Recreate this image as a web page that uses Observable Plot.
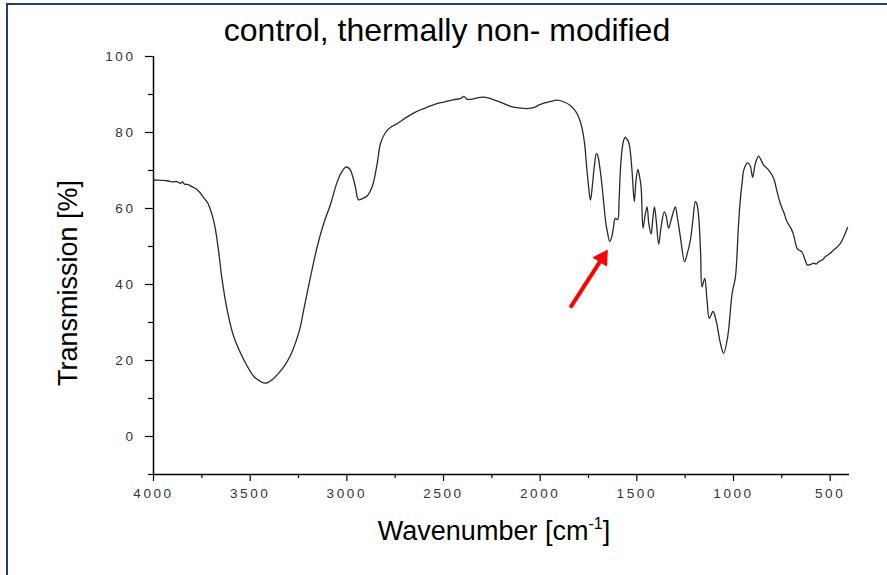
<!DOCTYPE html>
<html>
<head>
<meta charset="utf-8">
<script src="https://cdn.jsdelivr.net/npm/d3@7"></script>
<script src="https://cdn.jsdelivr.net/npm/@observablehq/plot@0.6"></script>
<style>
  html, body { margin: 0; padding: 0; background: #fff; overflow: hidden; }
  #wrap { position: relative; width: 887px; height: 575px; font-family: "Liberation Sans", Arial, sans-serif; }
  #frame { position: absolute; left: 6px; top: 3px; width: 1000px; height: 1000px; border: 2px solid #243f6e; box-sizing: border-box; pointer-events: none; }
  #chart { position: absolute; left: 0; top: 0; }
  .title { position: absolute; left: 447px; top: 14px; transform: translateX(-50%); font-size: 32px; color: #000; white-space: nowrap; line-height: 1; }
  .ylab { position: absolute; left: 68px; top: 283px; transform: translate(-50%, -50%) rotate(-90deg); font-size: 27px; color: #000; white-space: nowrap; line-height: 1; }
  .xlab { position: absolute; left: 494px; top: 530px; transform: translate(-50%, -50%); font-size: 27px; color: #000; white-space: nowrap; line-height: 1; }
  .xlab sup { font-size: 16px; vertical-align: 11px; }
  #chart svg g[aria-label$="tick label"] text { letter-spacing: 2.6px; }
</style>
</head>
<body>
<div id="wrap">
  <div id="chart"></div>
  <div class="title">control, thermally non- modified</div>
  <div class="ylab">Transmission [%]</div>
  <div class="xlab">Wavenumber [cm<sup>-1</sup>]</div>
  <div id="frame"></div>
</div>
<script>
// Wavenumber (cm-1) and transmission (%)
const wavenumber = [
  4000, 3960, 3930, 3900, 3880, 3860, 3850, 3840, 3820, 3800, 3780, 3760, 3740, 3720, 3705,
  3690, 3679, 3662, 3645, 3619, 3585, 3533, 3481, 3450, 3430, 3410, 3380, 3350, 3320, 3290,
  3260, 3240, 3223, 3188, 3153, 3120, 3085, 3050, 3030, 3005, 2985, 2970, 2955, 2940, 2920,
  2895, 2869, 2843, 2826, 2800, 2770, 2740, 2688, 2640, 2602, 2525, 2450, 2410, 2395, 2380,
  2361, 2292, 2223, 2154, 2100, 2068, 2030, 1999, 1950, 1912, 1870, 1844, 1820, 1801, 1785,
  1770, 1761, 1750, 1740, 1730, 1720, 1709, 1700, 1692, 1680, 1671, 1660, 1654, 1640, 1630,
  1623, 1611, 1599, 1592, 1585, 1575, 1568, 1560, 1554, 1545, 1537, 1525, 1513, 1505, 1495,
  1488, 1478, 1468, 1458, 1447, 1438, 1426, 1418, 1409, 1400, 1387, 1375, 1358, 1348, 1336,
  1320, 1301, 1290, 1275, 1253, 1240, 1223, 1210, 1197, 1190, 1180, 1170, 1163, 1149, 1137,
  1125, 1106, 1089, 1068, 1051, 1030, 1007, 990, 975, 965, 955, 947, 927, 913, 901,
  887, 870, 858, 844, 818, 792, 775, 758, 740, 723, 700, 689, 671, 660, 646,
  630, 617, 600, 586, 572, 560, 540, 525, 500, 482, 465, 447, 430, 410
];
const transmission = [
  67.5, 67.4, 67.3, 67.0, 67.1, 66.6, 67.0, 66.4, 66.3, 65.7, 65.2, 64.2, 62.8, 61.5, 59.6,
  57.0, 54.3, 48.3, 41.2, 33.3, 26.3, 20.2, 15.8, 14.6, 14.1, 14.2, 15.2, 16.8, 18.8, 21.5,
  25.5, 29.0, 33.3, 42.0, 50.0, 56.0, 61.0, 67.0, 69.3, 70.9, 70.4, 68.5, 65.5, 62.3, 62.6,
  63.3, 65.7, 71.8, 77.1, 80.0, 81.5, 82.3, 84.1, 85.5, 86.3, 87.7, 88.6, 89.0, 89.5, 88.8,
  88.7, 89.3, 88.3, 86.9, 86.4, 86.3, 86.6, 87.4, 88.1, 88.5, 87.9, 87.1, 85.8, 84.1, 81.5,
  77.0, 71.8, 66.0, 62.2, 66.0, 71.0, 74.5, 73.5, 71.0, 66.0, 61.3, 56.0, 54.3, 51.3, 52.5,
  54.3, 57.4, 57.1, 62.0, 70.1, 76.0, 78.0, 78.8, 78.4, 77.8, 76.2, 70.0, 61.8, 67.0, 70.3,
  69.0, 65.7, 54.8, 58.0, 60.4, 56.0, 53.3, 57.0, 60.4, 57.0, 50.6, 55.0, 59.1, 58.0, 54.8,
  57.5, 60.4, 57.5, 52.6, 46.0, 48.0, 51.7, 57.0, 61.8, 61.3, 57.8, 48.0, 39.4, 41.6, 36.0,
  31.1, 32.9, 30.3, 24.6, 21.9, 26.3, 37.7, 42.0, 55.0, 62.2, 67.0, 70.1, 72.0, 71.1, 68.2,
  71.8, 73.8, 72.8, 71.4, 70.1, 67.9, 64.5, 61.3, 59.0, 56.5, 54.5, 53.0, 49.5, 49.0, 48.6,
  46.5, 45.1, 45.3, 45.6, 45.4, 46.0, 46.5, 47.3, 48.2, 49.1, 49.8, 50.8, 52.5, 55.0
];
const xMajorTicks = [4000, 3500, 3000, 2500, 2000, 1500, 1000, 500];
const xMinorTicks = [3750, 3250, 2750, 2250, 1750, 1250, 750];
const yMajorTicks = [0, 20, 40, 60, 80, 100];
const yMinorTicks = [-10, 10, 30, 50, 70, 90];
// Red annotation arrow: tail and head-centre in data units, head direction in degrees
const arrowTail = [1844, 33.9];
const arrowHead = [1678, 47.0];
const arrowAngle = 32.5;

const spectrum = wavenumber.map((w, i) => ({w, t: transmission[i]}));
const arrows = [{x1: arrowTail[0], y1: arrowTail[1], x2: arrowHead[0], y2: arrowHead[1]}];
const heads = [{x: arrowHead[0], y: arrowHead[1]}];

const tickFont = {fontSize: 13.5, fill: "#333", fontFamily: "Liberation Sans, Arial, sans-serif"};

const chart = Plot.plot({
  width: 887,
  height: 575,
  marginLeft: 153,
  marginRight: 38,
  marginTop: 56,
  marginBottom: 101,
  style: {background: "transparent", fontFamily: "Liberation Sans, Arial, sans-serif", overflow: "visible"},
  x: {domain: [4000, 400]},
  y: {domain: [-10, 100]},
  marks: [
    Plot.ruleX([4000], {stroke: "#000", strokeWidth: 1.5}),
    Plot.ruleY([-10], {stroke: "#000", strokeWidth: 1.5}),
    Plot.axisX({ticks: xMajorTicks, tickSize: 7, tickPadding: 7, tickFormat: d => String(d), label: null, stroke: "#000", strokeWidth: 1.2, ...tickFont}),
    Plot.axisX({ticks: xMinorTicks, tickSize: 4, tickFormat: () => "", label: null, stroke: "#000", strokeWidth: 1.2}),
    Plot.axisY({ticks: yMajorTicks, tickSize: 8, tickPadding: 10, tickFormat: d => String(d), label: null, stroke: "#000", strokeWidth: 1.2, ...tickFont}),
    Plot.axisY({ticks: yMinorTicks, tickSize: 5, tickFormat: () => "", label: null, stroke: "#000", strokeWidth: 1.2}),
    Plot.line(spectrum, {x: "w", y: "t", stroke: "#2a2a2a", strokeWidth: 1.3, curve: "catmull-rom"}),
    Plot.link(arrows, {x1: "x1", y1: "y1", x2: "x2", y2: "y2", stroke: "#ff0000", strokeWidth: 4}),
    Plot.dot(heads, {x: "x", y: "y", symbol: "triangle", r: 6.5, fill: "#ff0000", stroke: "none", rotate: arrowAngle})
  ]
});
document.getElementById("chart").appendChild(chart);
</script>
</body>
</html>
